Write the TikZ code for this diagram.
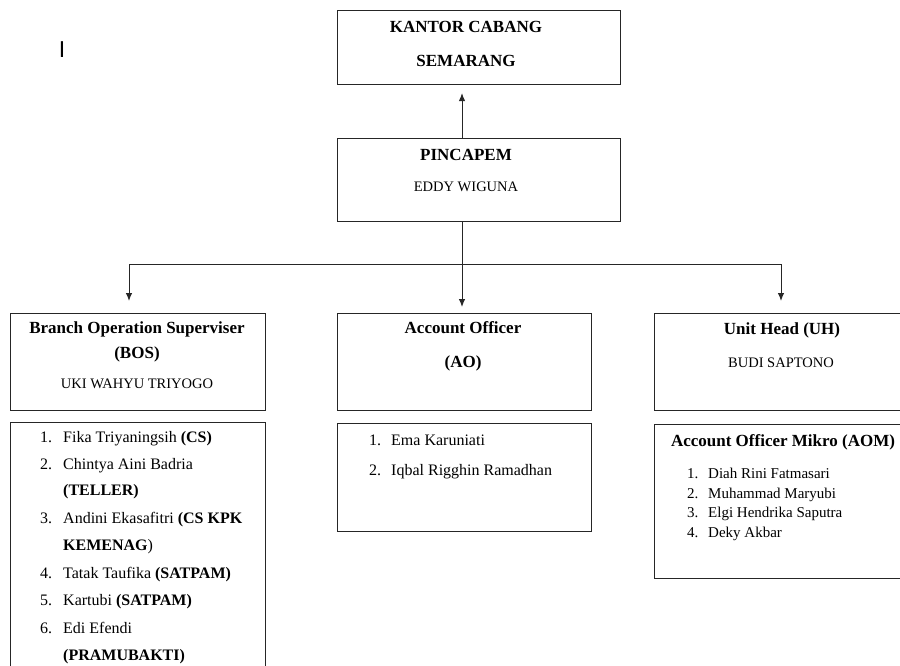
\documentclass[tikz,border=0pt]{standalone}
\usepackage{fontspec}
\setmainfont{Liberation Serif}
\newfontfamily\arialfont{Liberation Sans}
\usetikzlibrary{arrows.meta}
\begin{document}
\begin{tikzpicture}[x=1pt,y=-1pt,
  box/.style={draw=black!85, line width=1.1pt, inner sep=0pt, anchor=north west},
  head/.style={font=\fontsize{17}{20}\selectfont\bfseries, inner sep=0pt},
  pname/.style={font=\fontsize{14.5}{17}\selectfont, inner sep=0pt},
  item/.style={font=\fontsize{16}{19}\selectfont, inner sep=0pt, anchor=base west},
  sitem/.style={font=\fontsize{15}{18}\selectfont, inner sep=0pt, anchor=base west},
  conn/.style={line width=1pt, black!85},
  arr/.style={conn, -{Latex[length=8pt,width=6.5pt]}}]
\clip (0,0) rectangle (900,666);
% boxes
\node[box, minimum width=283pt, minimum height=74pt] (kantor) at (337,10) {};
\node[box, minimum width=283pt, minimum height=83pt] (pin) at (337,138) {};
\node[box, minimum width=255pt, minimum height=97pt] (bos) at (10,313) {};
\node[box, minimum width=255pt, minimum height=260pt] (boslist) at (10,422) {};
\node[box, minimum width=254pt, minimum height=97pt] (ao) at (337,313) {};
\node[box, minimum width=254pt, minimum height=108pt] (aolist) at (337,423) {};
\node[box, minimum width=260pt, minimum height=97pt] (uh) at (654,313) {};
\node[box, minimum width=260pt, minimum height=154pt] (aom) at (654,424) {};
% connectors
\coordinate (spine) at (462,264);
\coordinate (busL) at (129,264);
\coordinate (busR) at (781,264);
\draw[arr, shorten >=8pt] (pin.north -| spine) -- (kantor.south -| spine);
\draw[conn] (pin.south -| spine) -- (spine);
\draw[conn] (busL) -- (busR);
\draw[arr, shorten >=12pt] (busL) -- (busL |- bos.north);
\draw[arr, shorten >=6pt] (spine) -- (spine |- ao.north);
\draw[arr, shorten >=12pt] (busR) -- (busR |- uh.north);
% cursor mark
\node[inner sep=0pt, font=\arialfont\fontsize{23}{26}\selectfont] (mark) at (62,50) {I};
% texts
\node[head] (k1) at (466,27) {KANTOR CABANG};
\node[head] (k2) at (466,61) {SEMARANG};
\node[head] (p1) at (466,155) {PINCAPEM};
\node[pname] (p2) at (466,187) {EDDY WIGUNA};
\node[head] (b1) at (137,329) {Branch Operation Superviser};
\node[head] (b2) at (137,354) {(BOS)};
\node[pname] (b3) at (137,384) {UKI WAHYU TRIYOGO};
\node[head] (a1) at (463,328) {Account Officer};
\node[head] (a2) at (463,363) {(AO)};
\node[head] (u1) at (782,330) {Unit Head (UH)};
\node[pname] (u2) at (781,363) {BUDI SAPTONO};
% BOS list
\node[item] (bn1) at (40,442) {1.};
\node[item] (bl1) at (63,442) {Fika Triyaningsih \textbf{(CS)}};
\node[item] (bn2) at (40,469) {2.};
\node[item] (bl2) at (63,469) {Chintya Aini Badria};
\node[item] (bl2b) at (63,495) {\textbf{(TELLER)}};
\node[item] (bn3) at (40,523) {3.};
\node[item] (bl3) at (63,523) {Andini Ekasafitri \textbf{(CS KPK}};
\node[item] (bl3b) at (63,550) {\textbf{KEMENAG})};
\node[item] (bn4) at (40,578) {4.};
\node[item] (bl4) at (63,578) {Tatak Taufika \textbf{(SATPAM)}};
\node[item] (bn5) at (40,605) {5.};
\node[item] (bl5) at (63,605) {Kartubi \textbf{(SATPAM)}};
\node[item] (bn6) at (40,633) {6.};
\node[item] (bl6) at (63,633) {Edi Efendi};
\node[item] (bl6b) at (63,660) {\textbf{(PRAMUBAKTI)}};
% AO list
\node[item] (an1) at (369,445) {1.};
\node[item] (al1) at (391,445) {Ema Karuniati};
\node[item] (an2) at (369,475) {2.};
\node[item] (al2) at (391,475) {Iqbal Rigghin Ramadhan};
% AOM
\node[head] (m0) at (783,442) {Account Officer Mikro (AOM)};
\node[sitem] (mn1) at (687,478) {1.};
\node[sitem] (ml1) at (708,478) {Diah Rini Fatmasari};
\node[sitem] (mn2) at (687,498) {2.};
\node[sitem] (ml2) at (708,498) {Muhammad Maryubi};
\node[sitem] (mn3) at (687,517) {3.};
\node[sitem] (ml3) at (708,517) {Elgi Hendrika Saputra};
\node[sitem] (mn4) at (687,537) {4.};
\node[sitem] (ml4) at (708,537) {Deky Akbar};
\end{tikzpicture}
\end{document}
